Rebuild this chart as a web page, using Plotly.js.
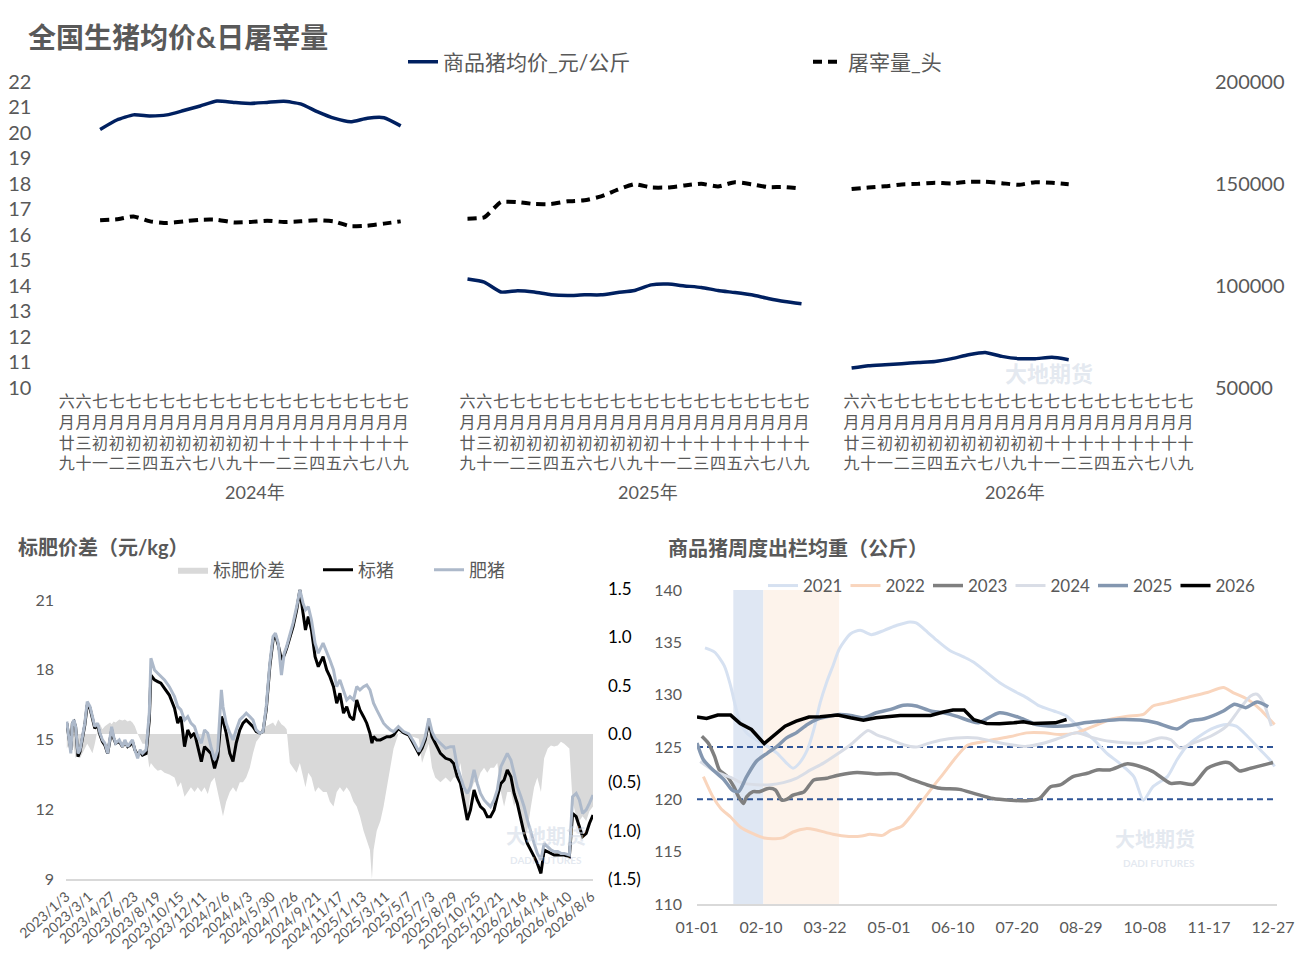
<!DOCTYPE html>
<html>
<head>
<meta charset="utf-8">
<script src="https://cdn.plot.ly/plotly-3.0.1.min.js"></script>
<style>
html, body { margin: 0; padding: 0; background: #fff; }
#chart { width: 1299px; height: 970px; }
</style>
</head>
<body>
<div id="chart"></div>
<script>
// ---------- top: price & daily slaughter by lunar date ----------
var lunarDays = ['六月廿九','六月三十','七月初一','七月初二','七月初三','七月初四','七月初五','七月初六','七月初七','七月初八','七月初九','七月初十',
  '七月十一','七月十二','七月十三','七月十四','七月十五','七月十六','七月十七','七月十八','七月十九'];
var yearNames = ['2024年', '2025年', '2026年'];

var price2024 = [null, null, 20.13, 20.50, 20.70, 20.66, 20.70, 20.87, 21.05, 21.24, 21.19, 21.15, 21.19, 21.23, 21.13, 20.83, 20.57, 20.43, 20.57, 20.59, 20.27];
var price2025 = [14.27, 14.15, 13.76, 13.81, 13.76, 13.65, 13.62, 13.65, 13.65, 13.74, 13.82, 14.04, 14.07, 14.00, 13.94, 13.82, 13.74, 13.65, 13.51, 13.39, 13.30];
var price2026 = [10.78, 10.87, 10.91, 10.95, 11.00, 11.04, 11.15, 11.30, 11.39, 11.24, 11.15, 11.15, 11.20, 11.11];

var slaughter2024 = [null, null, 132100, 132600, 134000, 131600, 130800, 131600, 132400, 132400, 131100, 131300, 131900, 131300, 131600, 132100, 131600, 129200, 129500, 130500, 131600];
var slaughter2025 = [132900, 133600, 141000, 141000, 140100, 140100, 141400, 141900, 143800, 147100, 149800, 148200, 148200, 149200, 150000, 148700, 150800, 149800, 148400, 148400, 147600];
var slaughter2026 = [147400, 148200, 148800, 149700, 150000, 150500, 150200, 151000, 151000, 150300, 149500, 150800, 150500, 149800];

// ---------- bottom left: 标猪 / 肥猪 and spread ----------
var spreadLabels = ['2023/1/3','2023/3/1','2023/4/27','2023/6/23','2023/8/19','2023/10/15','2023/12/11','2024/2/6','2024/4/3','2024/5/30',
  '2024/7/26','2024/9/21','2024/11/17','2025/1/13','2025/3/11','2025/5/7','2025/7/3','2025/8/29','2025/10/25','2025/12/21',
  '2026/2/16','2026/4/14','2026/6/10','2026/8/6'];
// days after 2023/1/3
var spreadDays = [2,8,12,16,20,24,30,35,41,47, 53,60,66,72,79,85,91,97,104,110, 114,119,124,133,141,147,154,160,166,172,
  179,185,191,200,208,212,221,229,237,246, 258,271,279,287,296,304,312,321,329,338, 346,354,362,371,379,388,392,400,409,417,
  425,434,442,450,459,467,475,484,492,500, 509,517,523,530,538,545,551,559,567,576, 584,592,598,605,613,622,630,
  642,651,659,668,676,684,693,701,709,718, 726,734,743,751,759,764,768,776,785,793, 801,810,818,830,843,856,868,881,889,897,
  906,914,922,935,948,960,968,977,985,993, 1002,1010,1019,1027,1035,1044,1052,1060,1069,1077,
  1086,1094,1102,1111,1119,1127,1136,1144,1152,1161, 1169,1177,1186,1194,1203,1211,1219,1228,1236,1244,
  1257,1265,1274,1282,1290,1299,1307,1316];
var fatPig = [15.77,14.98,14.40,15.70,15.84,15.55,14.40,14.55,15.12,15.70, 16.63,16.41,15.98,15.55,15.70,15.27,14.98,14.84,14.40,15.12,
  15.55,15.12,14.84,14.98,14.69,14.98,14.69,14.84,14.98,14.55, 14.19,14.55,14.40,14.55,16.13,18.49,17.99,17.85,17.70,17.56,
  17.27,16.84,16.41,16.27,15.84,15.98,15.70,15.55,15.12,14.84, 15.41,15.27,14.69,14.12,14.55,17.13,16.41,15.70,15.27,14.98,
  15.41,15.84,15.98,16.13,15.98,15.84,15.41,15.27,15.34,16.41, 18.28,19.42,19.57,19.14,17.77,18.71,19.00,19.49,20.00,20.71,
  21.43,20.86,20.57,20.71,20.14,19.14,18.71,
  19.14,18.78,18.42,17.99,17.27,17.56,17.13,16.70,16.84,16.70, 17.27,17.13,17.27,17.34,17.13,16.84,16.56,16.27,15.98,15.70,
  15.55,15.41,15.34,15.55,15.34,15.24,14.91,14.48,14.76,15.12, 15.91,15.34,15.05,14.84,14.62,14.69,14.69,13.83,13.40,12.97,
  12.68,12.97,13.69,13.11,12.68,12.40,12.25,12.11,12.40,12.83, 13.83,14.12,14.40,14.12,13.54,12.97,12.54,12.11,11.54,10.96,
  10.53,10.10,9.82,10.53,10.39,10.25,10.18,10.18,10.10,10.10, 10.03,12.54,12.68,12.40,11.82,11.97,12.25,12.61];
var stdPig = [15.70,15.12,14.55,15.70,15.77,15.55,14.26,14.48,15.05,15.62, 16.48,16.34,15.91,15.48,15.62,15.19,14.91,14.76,14.40,15.05,
  15.41,15.05,14.84,14.91,14.69,14.91,14.69,14.76,14.91,14.55, 14.33,14.48,14.33,14.40,15.84,17.77,17.56,17.49,17.42,17.20,
  16.91,16.34,15.70,15.98,14.69,15.41,15.12,15.27,14.69,14.05, 14.69,14.55,14.40,13.76,14.26,15.98,15.84,15.27,14.40,14.05,
  14.84,15.41,15.70,15.84,15.70,15.55,15.34,15.27,15.34,16.27, 18.13,19.28,19.49,19.06,18.42,18.63,18.92,19.35,19.85,20.57,
  21.43,20.43,19.71,20.28,19.71,18.56,18.13,
  18.56,17.99,17.70,17.27,16.56,16.99,16.13,16.41,15.98,15.84, 16.70,16.27,15.98,15.70,15.27,14.84,15.12,14.98,14.98,15.05,
  15.12,15.12,15.19,15.48,15.29,15.19,14.84,14.40,14.62,14.98, 15.77,15.12,14.84,14.40,14.19,14.12,13.97,13.40,13.11,12.40,
  11.54,11.97,12.83,12.40,12.11,11.97,11.68,11.68,11.97,12.54, 13.11,13.26,13.69,13.40,12.68,12.25,11.54,10.96,10.53,10.25,
  9.96,9.67,9.24,10.25,10.18,10.10,10.03,10.03,10.03,10.03, 9.96,11.82,11.68,11.25,10.82,10.96,11.39,11.75];
var spread = [-0.15,-0.10,-0.20,-0.10,-0.15,-0.25,-0.20,-0.25,-0.20,-0.15, -0.10,-0.15,-0.20,-0.10,0.05,0.10,0.05,0.08,0.10,0.12,
  0.10,0.13,0.12,0.15,0.14,0.15,0.13,0.14,0.12,0.08, 0.00,-0.05,-0.10,-0.10,-0.35,-0.30,-0.35,-0.38,-0.37,-0.40,
  -0.42,-0.45,-0.55,-0.50,-0.65,-0.60,-0.55,-0.60,-0.55,-0.60, -0.55,-0.62,-0.50,-0.45,-0.60,-0.80,-0.85,-0.70,-0.60,-0.55,
  -0.60,-0.50,-0.50,-0.45,-0.35,-0.20,-0.08,-0.03,0.02,0.08, 0.10,0.12,0.08,0.15,0.10,0.08,0.05,-0.30,-0.35,-0.40,
  -0.30,-0.45,-0.55,-0.40,-0.45,-0.60,-0.55,
  -0.60,-0.60,-0.70,-0.75,-0.60,-0.55,-0.60,-0.55,-0.60,-0.70, -0.75,-0.85,-1.00,-1.10,-1.20,-1.50,-1.20,-1.00,-0.90,-0.75,
  -0.55,-0.35,-0.15,0.00,0.02,-0.02,-0.03,-0.05,-0.30,-0.20, -0.10,-0.35,-0.45,-0.50,-0.45,-0.50,-0.45,-0.45,-0.30,-0.55,
  -0.90,-0.60,-0.50,-0.50,-0.40,-0.35,-0.40,-0.35,-0.35,-0.30, -0.60,-0.75,-0.60,-0.60,-0.75,-0.65,-0.95,-1.10,-1.00,-0.75,
  -0.55,-0.45,-0.60,-0.25,-0.15,-0.12,-0.13,-0.12,-0.08,-0.10, -0.15,-0.70,-0.85,-0.90,-0.85,-0.90,-0.80,-0.75];
var spreadTickVals = [-1.5, -1, -0.5, 0, 0.5, 1, 1.5];
var spreadTickText = ['(1.5)', '(1.0)', '(0.5)', '0.0', '0.5', '1.0', '1.5'];

// ---------- bottom right: weekly average slaughter weight ----------
var weekTickLabels = ['01-01','02-10','03-22','05-01','06-10','07-20','08-29','10-08','11-17','12-27'];
var weekTickDays = [0, 40, 80, 120, 160, 200, 240, 280, 320, 360];
var springBand = [22.7, 41.5];
var afterBand = [41.5, 88.8];
var refLevels = [125, 120];

var days2021 = [5,11,17,21,24,27,31,37,44,50, 56,60,64,69,73,77,81,85,89,96, 102,109,117,125,133,137,144,150,158,167,
  173,181,189,198,206,214,223,231,239,248, 256,264,273,279,285,294,300,306,314,323, 331,337,344,352,358,361];
var w2021 = [134.47,134.06,132.77,130.85,128.92,127.31,126.35,125.70,125.06,124.42, 123.46,122.97,123.46,124.74,126.67,129.24,131.17,132.77,134.38,135.82,
  136.15,135.73,136.15,136.63,136.95,136.85,135.98,135.18,134.22,133.58, 133.09,132.13,131.17,130.36,129.72,128.92,128.44,127.95,126.83,125.70,
  124.42,123.46,122.17,119.92,121.21,122.17,123.78,125.06,126.03,126.83, 127.15,126.99,126.03,124.74,123.78,123.14];
var days2022 = [4,10,15,21,27,35,42,49,54,60, 68,74,85,95,103,108,116,121,128,134, 141,149,154,162,169,175,185,196,206,217,
  227,237,248,258,269,279,285,294,302,310, 319,329,335,344,352,358,361];
var w2022 = [122.17,120.22,119.11,118.31,117.36,116.72,116.31,116.24,116.34,116.88, 117.2,117.1,116.66,116.46,116.5,116.66,116.56,117.04,117.42,118.47,
  119.9,121.5,122.45,124.04,125.16,125.4,125.7,126.0,126.35,126.35, 126.19,126.35,126.99,127.63,127.95,128.11,128.92,129.24,129.56,129.88,
  130.2,130.68,130.2,129.56,128.6,127.63,127.15];
var days2023 = [3,7,11,14,19,23,26,29,31,35, 39,45,49,53,56,60,67,73,81,89, 100,112,125,135,144,152,164,173,185,196,
  206,214,221,227,235,244,250,258,269,277, 285,296,302,310,319,329,333,339,346,360];
var w2023 = [126.03,125.38,124.1,122.81,122.17,121.21,120.24,119.6,120.24,120.73, 120.73,121.05,120.89,119.92,119.99,120.4,120.73,121.85,122.01,122.33,
  122.56,122.43,122.43,121.85,121.37,121.05,120.95,120.57,120.08,119.92, 119.86,120.08,121.21,121.37,122.17,122.49,122.81,122.81,123.39,123.14,
  122.65,121.53,121.59,121.43,122.97,123.52,123.46,122.72,122.97,123.52];
var days2024 = [2,12,21,26,30,37,46,54,62,71, 79,87,96,102,107,112,121,129,137,144, 152,162,175,185,196,206,217,227,237,248,
  258,269,279,289,296,302,310,321,331,339, 346,350,354,359];
var w2024 = [123.62,122.6,122.1,121.7,121.5,121.4,121.4,121.6,122.01,122.81, 123.46,124.26,125.22,126.03,126.57,126.19,125.7,125.22,125.0,125.32,
  125.64,125.87,125.87,125.54,125.22,125.06,125.38,125.87,126.35,125.87, 125.54,125.38,125.38,125.87,125.7,124.9,125.38,126.03,126.99,128.6,
  129.88,130.04,129.24,126.99];
var days2025 = [0,4,10,17,22,26,31,37,44,50, 56,62,69,75,83,89,96,104,112,121, 129,137,146,154,162,171,176,189,202,212,
  223,233,242,252,264,277,287,300,308,317, 329,336,343,350,357];
var w2025 = [125.38,123.78,122.81,121.85,120.89,120.73,122.17,123.62,124.42,125.06, 125.87,126.35,127.15,127.63,127.95,128.11,128.02,127.79,128.27,128.6,
  128.98,128.92,128.44,128.27,127.95,127.47,127.31,128.27,127.79,127.15, 126.99,127.05,127.31,127.47,127.63,127.57,127.31,126.73,127.47,127.7,
  128.44,129.08,128.76,129.3,128.85];
var days2026 = [0,6,13,21,27,34,42,48,55,62, 70,77,88,96,104,112,120,127,135,146, 154,160,167,173,181,189,198,204,210,216, 224,231];
var w2026 = [127.86,127.73,128.05,128.05,127.25,126.67,125.32,126.12,126.99,127.47, 127.86,127.89,128.05,127.79,127.57,127.79,127.95,128.02,128.02,128.02,
  128.34,128.53,128.53,127.6,127.25,127.21,127.31,127.41,127.25,127.31, 127.31,127.63];

// ---------- helpers ----------
var W = 1299, H = 970;
var FONT = "Lato, 'Noto Sans CJK SC', sans-serif";
var GREY = '#595959';
function px(x) { return x / W; }
function py(y) { return 1 - y / H; }

// slot offset of each year block on the top category axis
var blockStart = [0, 24, 47];

function joinBlocks(blocks) {
  var xs = [], ys = [];
  blocks.forEach(function(vals, g) {
    vals.forEach(function(v, i) { xs.push(blockStart[g] + i); ys.push(v); });
    xs.push(blockStart[g] + lunarDays.length); ys.push(null);
  });
  return {x: xs, y: ys};
}

var priceLine = joinBlocks([price2024, price2025, price2026]);
var killLine = joinBlocks([slaughter2024, slaughter2025, slaughter2026]);

var topTickVals = [], topTickText = [];
blockStart.forEach(function(s) {
  lunarDays.forEach(function(d, i) {
    topTickVals.push(s + i);
    topTickText.push(d.split('').join('<br>'));
  });
});

var traces = [
  {x: priceLine.x, y: priceLine.y, name: '商品猪均价_元/公斤', type: 'scatter', mode: 'lines',
   line: {color: '#002060', width: 3.5, shape: 'spline', smoothing: 0.5}, xaxis: 'x', yaxis: 'y', legend: 'legend'},
  {x: killLine.x, y: killLine.y, name: '屠宰量_头', type: 'scatter', mode: 'lines',
   line: {color: '#000000', width: 4, dash: '9px,6px', shape: 'spline', smoothing: 0.5}, xaxis: 'x', yaxis: 'y2', legend: 'legend'},

  {x: spreadDays, y: spread, name: '标肥价差', type: 'scatter', mode: 'lines', fill: 'tozeroy',
   fillcolor: '#d9d9d9', line: {color: '#d9d9d9', width: 0}, xaxis: 'x2', yaxis: 'y3', legend: 'legend2'},
  {x: spreadDays, y: stdPig, name: '标猪', type: 'scatter', mode: 'lines',
   line: {color: '#000000', width: 3}, xaxis: 'x2', yaxis: 'y4', legend: 'legend3'},
  {x: spreadDays, y: fatPig, name: '肥猪', type: 'scatter', mode: 'lines',
   line: {color: '#adb9ca', width: 3}, xaxis: 'x2', yaxis: 'y4', legend: 'legend3'}
];

var weightSeries = [
  ['2021', days2021, w2021, '#d6e1f1', 3, 'spline'],
  ['2022', days2022, w2022, '#f9d5bd', 3, 'spline'],
  ['2023', days2023, w2023, '#7f7f7f', 3.5, 'spline'],
  ['2024', days2024, w2024, '#d9dde6', 3, 'spline'],
  ['2025', days2025, w2025, '#8497b0', 3.5, 'spline'],
  ['2026', days2026, w2026, '#000000', 3.5, 'linear']
];
weightSeries.forEach(function(s) {
  traces.push({x: s[1], y: s[2], name: s[0], type: 'scatter', mode: 'lines',
    line: {color: s[3], width: s[4], shape: s[5], smoothing: 0.7},
    xaxis: 'x3', yaxis: 'y5', legend: 'legend4'});
});

var shapes = [
  {type: 'rect', xref: 'x3', yref: 'y5 domain', x0: springBand[0], x1: springBand[1], y0: 0, y1: 1,
   fillcolor: '#dfe7f3', line: {width: 0}, layer: 'below'},
  {type: 'rect', xref: 'x3', yref: 'y5 domain', x0: afterBand[0], x1: afterBand[1], y0: 0, y1: 1,
   fillcolor: '#fdf3eb', line: {width: 0}, layer: 'below'}
];
refLevels.forEach(function(v) {
  shapes.push({type: 'line', xref: 'x3', yref: 'y5', x0: 0, x1: 362, y0: v, y1: v,
    line: {color: '#2f5597', width: 2, dash: '6px,4px'}, layer: 'below'});
});

var annotations = [];
var yearLabelSlot = [11.3, 10.8, 9.8];
yearNames.forEach(function(n, g) {
  annotations.push({text: n, xref: 'x', yref: 'paper', x: blockStart[g] + yearLabelSlot[g], y: py(492),
    showarrow: false, xanchor: 'center', yanchor: 'middle', font: {size: 18, color: GREY}});
});
annotations.push({text: '标肥价差（元/kg）', xref: 'paper', yref: 'paper', x: px(16), y: py(547),
  showarrow: false, xanchor: 'left', yanchor: 'middle', font: {size: 20, weight: 700, color: GREY}});
annotations.push({text: '商品猪周度出栏均重（公斤）', xref: 'paper', yref: 'paper', x: px(666), y: py(548),
  showarrow: false, xanchor: 'left', yanchor: 'middle', font: {size: 20, weight: 700, color: GREY}});
// watermarks
[[1095, 374, 22], [546, 850, 20], [1197, 853, 20]].forEach(function(w) {
  annotations.push({text: '大地期货', xref: 'paper', yref: 'paper', x: px(w[0]), y: py(w[1]), showarrow: false,
    font: {size: w[2], weight: 700, color: 'rgba(205,214,228,0.55)'}});
});
[[546, 868], [1197, 871]].forEach(function(w) {
  annotations.push({text: 'DADI FUTURES', xref: 'paper', yref: 'paper', x: px(w[0]), y: py(w[1]), showarrow: false,
    font: {size: 10, weight: 700, color: 'rgba(205,214,228,0.55)'}});
});

var layout = {
  width: W, height: H,
  margin: {l: 0, r: 0, t: 0, b: 0},
  paper_bgcolor: '#ffffff', plot_bgcolor: 'rgba(0,0,0,0)',
  font: {family: FONT, color: GREY},
  title: {text: '全国生猪均价&日屠宰量', x: px(28), xanchor: 'left', y: py(38), yanchor: 'middle',
    font: {size: 28, weight: 700, color: GREY}},
  showlegend: true,

  xaxis: {domain: [px(58.35), px(1193.95)], range: [-0.5, 67.5], anchor: 'y',
    tickmode: 'array', tickvals: topTickVals, ticktext: topTickText, tickangle: 0,
    tickfont: {size: 16, color: GREY}, ticks: '', ticklabelstandoff: 2,
    showgrid: false, zeroline: false, showline: false},
  yaxis: {domain: [py(388), py(81.7)], range: [10, 22], dtick: 1, anchor: 'x', side: 'left',
    tickfont: {size: 20, color: GREY}, ticks: '', ticklabelstandoff: 26,
    showgrid: false, zeroline: false, showline: false},
  yaxis2: {overlaying: 'y', side: 'right', anchor: 'x', range: [50000, 200000], dtick: 50000, tickformat: 'd',
    tickfont: {size: 20, color: GREY}, ticks: '', ticklabelstandoff: 20,
    showgrid: false, zeroline: false, showline: false},

  xaxis2: {domain: [px(66), px(593)], range: [0, 1316], anchor: 'y3',
    tickmode: 'array', tickvals: spreadLabels.map(function(_, i) { return i * 57; }), ticktext: spreadLabels,
    tickangle: -42, tickfont: {size: 14, color: GREY}, ticks: '', ticklabelstandoff: 2,
    showgrid: false, zeroline: false, showline: true, linecolor: '#d9d9d9', linewidth: 2},
  yaxis3: {domain: [py(879), py(589)], anchor: 'x2', side: 'right', range: [-1.5, 1.5],
    tickmode: 'array', tickvals: spreadTickVals, ticktext: spreadTickText,
    tickfont: {size: 17, color: '#000000'}, ticks: '', ticklabelstandoff: 14,
    showgrid: false, zeroline: false, showline: false},
  yaxis4: {overlaying: 'y3', anchor: 'x2', side: 'left', range: [9, 21.47], tickvals: [9, 12, 15, 18, 21],
    tickfont: {size: 16, color: GREY}, ticks: '', ticklabelstandoff: 11,
    showgrid: false, zeroline: false, showline: false},

  xaxis3: {domain: [px(697), px(1277)], range: [0, 362.5], anchor: 'y5',
    tickmode: 'array', tickvals: weekTickDays, ticktext: weekTickLabels, tickangle: 0,
    tickfont: {size: 16, color: GREY}, ticks: '', ticklabelstandoff: 8,
    showgrid: false, zeroline: false, showline: true, linecolor: '#d9d9d9', linewidth: 2},
  yaxis5: {domain: [py(904), py(590)], range: [110, 140], dtick: 5, anchor: 'x3',
    tickfont: {size: 16, color: GREY}, ticks: '', ticklabelstandoff: 14,
    showgrid: false, zeroline: false, showline: false},

  legend: {orientation: 'h', x: px(403), xanchor: 'left', y: py(62), yanchor: 'middle',
    entrywidth: 360, bgcolor: 'rgba(0,0,0,0)', font: {size: 21, color: GREY}},
  legend2: {orientation: 'h', x: px(173), xanchor: 'left', y: py(570), yanchor: 'middle',
    bgcolor: 'rgba(0,0,0,0)', font: {size: 18, color: GREY}},
  legend3: {orientation: 'h', x: px(318), xanchor: 'left', y: py(570), yanchor: 'middle',
    entrywidth: 66, bgcolor: 'rgba(0,0,0,0)', font: {size: 18, color: GREY}},
  legend4: {orientation: 'h', x: px(763), xanchor: 'left', y: py(586), yanchor: 'middle',
    entrywidth: 37.5, bgcolor: 'rgba(0,0,0,0)', font: {size: 17, color: GREY}},

  shapes: shapes,
  annotations: annotations
};

Plotly.newPlot('chart', traces, layout, {staticPlot: true, displayModeBar: false});
</script>
</body>
</html>
